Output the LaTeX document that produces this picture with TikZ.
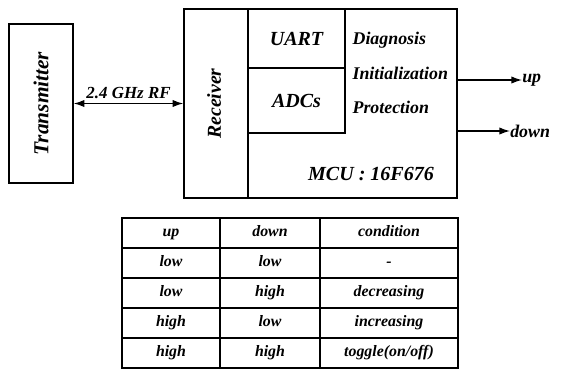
\documentclass[tikz,border=0pt]{standalone}
\usepackage{fontspec}
\setmainfont{Liberation Serif}
\usetikzlibrary{fit,matrix,arrows.meta}
\tikzset{
  box/.style={draw, line width=1.1pt, inner sep=0pt},
  lbl/.style={font=\fontsize{13.4}{15}\selectfont\bfseries\itshape, inner sep=1pt},
  biglbl/.style={font=\fontsize{15}{17}\selectfont\bfseries\itshape, inner sep=1pt},
  tbltxt/.style={font=\fontsize{11.9}{13}\selectfont\bfseries\itshape},
  arr/.style={line width=1pt, -{Latex[length=8pt,width=5.5pt]}},
  darr/.style={line width=1pt, {Latex[length=8pt,width=5.5pt]}-{Latex[length=8pt,width=5.5pt]}}
}
\begin{document}
\begin{tikzpicture}[x=0.75pt,y=-0.75pt]
\useasboundingbox (0,0) rectangle (561,369);
% Transmitter
\node[box, fit={(9,24) (73,183)}] (tx) {};
\node[biglbl, rotate=90, font=\fontsize{16}{18}\selectfont\bfseries\itshape] (txl) at (tx.center) {Transmitter};
% MCU outer box
\node[box, fit={(184,9) (457,198)}] (mcu) {};
\node[box, fit={(184,9) (248,198)}] (rx) {};
\node[biglbl, rotate=90, font=\fontsize{14.8}{17}\selectfont\bfseries\itshape] (rxl) at (214,103.5) {Receiver};
\node[box, fit={(248,9) (345,68)}] (uart) {};
\node[biglbl] (uartl) at (uart.center) {UART};
\node[box, fit={(248,68) (345,133)}] (adc) {};
\node[biglbl] (adcl) at (adc.center) {ADCs};
\node[lbl, anchor=west] (diag) at (351,40) {Diagnosis};
\node[lbl, anchor=west] (init) at (351,73) {Initialization};
\node[lbl, anchor=west] (prot) at (351,107) {Protection};
\node[biglbl] (mcul) at (371,174) {MCU : 16F676};
% RF link
\draw[darr] (tx) -- (rx) node[midway, above=2pt, lbl, font=\fontsize{12.7}{15}\selectfont\bfseries\itshape] (rfl) {2.4 GHz RF};
% outputs
\node[lbl, anchor=west, inner sep=0pt] (upl) at (522,80) {up};
\node[lbl, anchor=west, inner sep=0pt] (downl) at (510,131) {down};
\draw[arr] (mcu.east |- upl) -- (upl.west);
\draw[arr] (mcu.east |- downl) -- (downl.west);
% table
\matrix (tbl) [matrix of nodes, anchor=north west, inner sep=0pt,
  column sep=-1.1pt, row sep=-1.1pt,
  nodes={draw, line width=1.1pt, tbltxt, minimum height=22.5pt, text height=8pt, text depth=2.5pt, inner sep=0pt, anchor=center},
  column 1/.style={nodes={minimum width=73.5pt}},
  column 2/.style={nodes={minimum width=75pt}},
  column 3/.style={nodes={minimum width=103.5pt}}]
  at (121,217) {
  up & down & condition \\
  low & low & - \\
  low & high & decreasing \\
  high & low & increasing \\
  high & high & toggle(on/off) \\
};
\end{tikzpicture}
\end{document}
